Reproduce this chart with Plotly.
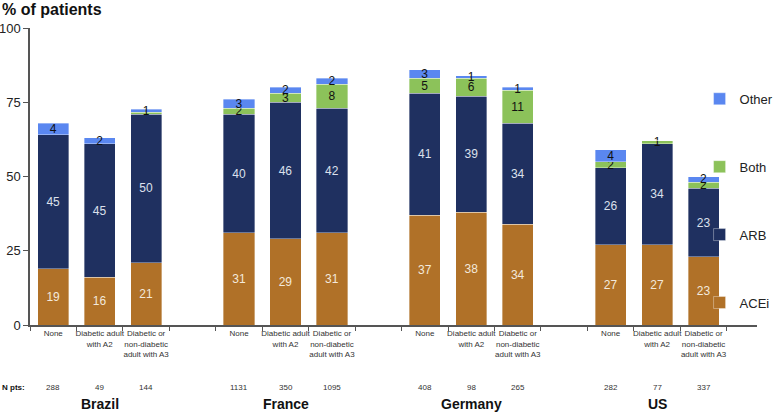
import plotly.graph_objects as go

countries = ["Brazil", "France", "Germany", "US"]
subgroups = ["None", "Diabetic adult<br>with A2", "Diabetic or<br>non-diabetic<br>adult with A3"]
n_pts = [288, 49, 144, 1131, 350, 1095, 408, 98, 265, 282, 77, 337]

acei  = [19, 16, 21, 31, 29, 31, 37, 38, 34, 27, 27, 23]
arb   = [45, 45, 50, 40, 46, 42, 41, 39, 34, 26, 34, 23]
both  = [0, 0, 0.6, 2, 3, 8, 5, 6, 11, 2, 1, 2]
other = [4, 2, 1, 3, 2, 2, 3, 1, 1, 4, 0, 2]

series = [
    ("ACEi", acei, "#B07128", "#F3E9DC"),
    ("ARB", arb, "#1F3060", "#DCE0EC"),
    ("Both", both, "#8CC25A", "#111111"),
    ("Other", other, "#5A87F0", "#111111"),
]

# x positions: 3 bars per country + one empty slot between countries
xpos = [g * 4 + i for g in range(len(countries)) for i in range(len(subgroups))]
sub_labels = [s for _ in countries for s in subgroups]
boundaries = [k + 0.5 for k in range(-1, 15)]

fig = go.Figure()
for k, (name, vals, color, tcolor) in enumerate(series):
    fig.add_trace(go.Bar(
        x=xpos, y=vals, name=name,
        marker=dict(color=color, line=dict(color="rgba(255,255,255,0.6)", width=0.6)),
        width=0.67,
        text=[f"{v:.0f}" if v >= 1 else "" for v in vals],
        textposition="inside", insidetextanchor="middle",
        constraintext="none", textangle=0,
        textfont=dict(family="Liberation Sans, Arial, sans-serif", size=12, color=tcolor),
        legendgroup=name, legendrank=len(series) - k, hoverinfo="skip",
    ))

fig.update_layout(
    barmode="stack",
    width=774, height=413,
    margin=dict(l=30, r=17, t=28, b=88, autoexpand=False),
    paper_bgcolor="white", plot_bgcolor="white",
    font=dict(family="Liberation Sans, Arial, sans-serif", color="#222"),
    showlegend=True,
    legend=dict(
        x=0.921, y=0.812, xanchor="left", yanchor="top",
        traceorder="grouped", tracegroupgap=48,
        font=dict(size=13, color="#222"),
        bgcolor="rgba(0,0,0,0)", itemwidth=30,
    ),
    xaxis=dict(
        range=[-0.5, 15.15], automargin=False,
        tickmode="array", tickvals=xpos, ticktext=sub_labels, tickangle=0,
        ticks="", tickfont=dict(size=8, color="#333"),
        showline=True, linecolor="#555", linewidth=1.5,
        showgrid=False, zeroline=False,
        minor=dict(tickmode="array", tickvals=boundaries, ticks="outside",
                   ticklen=4, tickcolor="#555", tickwidth=1, showgrid=False),
    ),
    yaxis=dict(
        range=[0, 100], tickvals=[0, 25, 50, 75, 100], automargin=False,
        ticks="outside", ticklen=5, tickcolor="#555",
        tickfont=dict(size=13, color="#222"),
        showline=True, linecolor="#555", linewidth=1.5,
        showgrid=False, zeroline=False,
    ),
)

annotations = [
    dict(text="<b>% of patients</b>", xref="paper", yref="paper", x=0, y=1,
         xshift=-30, yshift=8, xanchor="left", yanchor="bottom", showarrow=False,
         font=dict(size=16, color="#111")),
    dict(text="<b>N pts:</b>", xref="paper", yref="paper", x=0, y=0,
         xshift=-30, yshift=-62, xanchor="left", yanchor="middle", showarrow=False,
         font=dict(size=8, color="#111")),
]
for x, n in zip(xpos, n_pts):
    annotations.append(dict(text=str(n), xref="x", yref="paper", x=x, y=0, yshift=-62,
                            xanchor="center", yanchor="middle", showarrow=False,
                            font=dict(size=8, color="#333")))
for g, c in enumerate(countries):
    annotations.append(dict(text=f"<b>{c}</b>", xref="x", yref="paper", x=g * 4 + 1, y=0,
                            yshift=-79, xanchor="center", yanchor="middle", showarrow=False,
                            font=dict(size=14, color="#111")))
fig.update_layout(annotations=annotations)

fig.write_html("out.html", config={"displayModeBar": False},
               post_script="document.body.style.margin='0';")
